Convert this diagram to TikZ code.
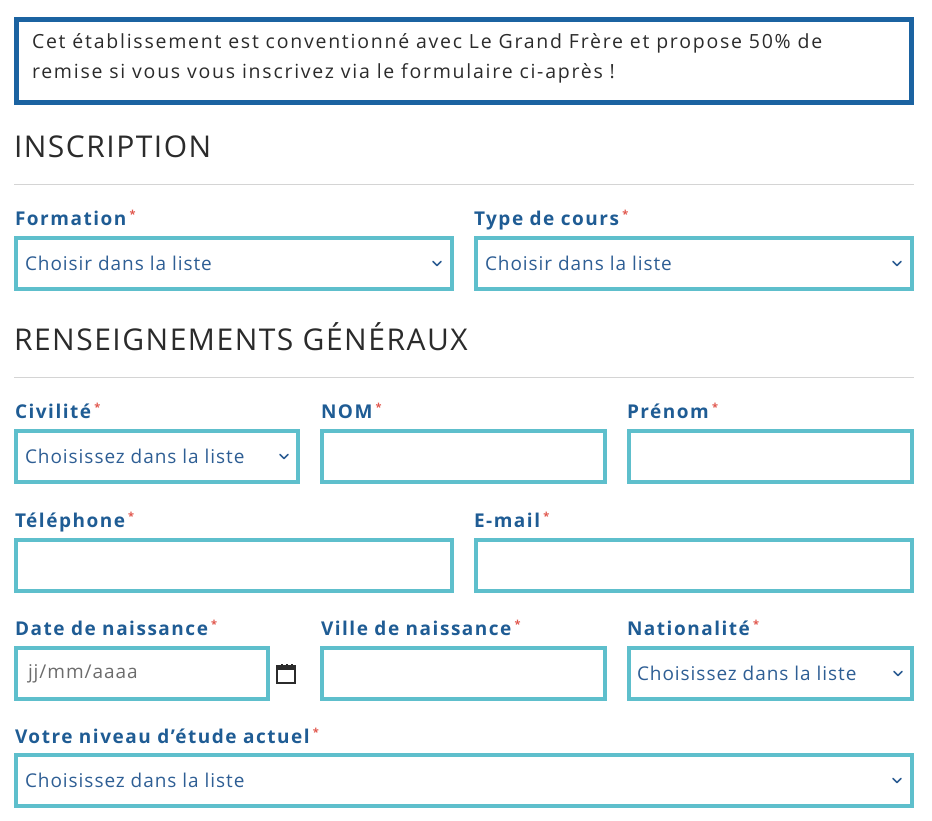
\documentclass[tikz,border=0pt]{standalone}
\usepackage{fontspec}
\setmainfont{Open Sans}
\usetikzlibrary{positioning}
\definecolor{frameblue}{HTML}{1B63A1}
\definecolor{labelblue}{HTML}{1F5C94}
\definecolor{fieldcyan}{HTML}{5EBFCC}
\definecolor{placeblue}{HTML}{2E5E94}
\definecolor{rulegray}{HTML}{D4D4D4}
\definecolor{darktext}{HTML}{2B2B2B}
\definecolor{starred}{HTML}{E0544A}
\newcommand{\req}{\,\raisebox{0.35em}{\textcolor{starred}{\fontsize{11}{11}\selectfont *}}}
\begin{document}
\begin{tikzpicture}[x=1pt, y=-1pt, outer sep=0pt,
  field/.style = {rectangle, draw=fieldcyan, line width=4pt, anchor=north west,
                  inner sep=0pt, minimum height=51pt},
  label/.style = {anchor=base west, inner sep=0pt, text=labelblue,
                  font=\bfseries\fontsize{19}{19}\selectfont\addfontfeatures{LetterSpace=8}},
  place/.style = {anchor=west, inner sep=0pt, text=placeblue,
                  font=\fontsize{19}{19}\selectfont\addfontfeatures{LetterSpace=5}},
  heading/.style = {anchor=base west, inner sep=0pt, text=darktext,
                  font=\fontsize{30}{30}\selectfont\addfontfeatures{LetterSpace=5}},
  hrule/.style = {draw=rulegray, line width=1pt},
  chevron/.style = {draw=placeblue, line width=1.6pt, line cap=round, line join=round}]
  \useasboundingbox (0,0) rectangle (932,820);

  % Notice box.
  \node [rectangle, draw=frameblue, line width=5pt, anchor=north west, inner sep=0pt,
         minimum width=895pt, minimum height=83pt, name=Notice] at (16.5,19.5) {};
  \node [anchor=north west, inner sep=0pt, align=left, text=darktext,
         font=\fontsize{19.5}{30}\selectfont\addfontfeatures{LetterSpace=9}, name=NoticeText] at (32,34)
        {Cet établissement est conventionné avec Le Grand Frère et propose 50\% de\\
         remise si vous vous inscrivez via le formulaire ci-après !};

  % Inscription.
  \node [heading, name=Inscription] at (14,157) {INSCRIPTION};
  \coordinate (ruleA) at (14,184);
  \coordinate (ruleAend) at (914,184);
  \draw [hrule] (ruleA) -- (ruleAend);
  \node [label, name=LabFormation] at (15,225) {Formation\req};
  \node [label, name=LabType] at (474,225) {Type de cours\req};
  \node [field, minimum width=436pt, name=Formation] at (16,238) {};
  \node [field, minimum width=436pt, name=Type] at (476,238) {};
  \node [place, name=PlFormation] at ([xshift=9pt]Formation.west) {Choisir dans la liste};
  \node [place, name=PlType] at ([xshift=9pt]Type.west) {Choisir dans la liste};

  % Renseignements generaux.
  \node [heading, name=Renseignements] at (14,350) {RENSEIGNEMENTS GÉNÉRAUX};
  \coordinate (ruleB) at (14,377);
  \coordinate (ruleBend) at (914,377);
  \draw [hrule] (ruleB) -- (ruleBend);
  \node [label, name=LabCivilite] at (15,418) {Civilité\req};
  \node [label, name=LabNom] at (321,418) {NOM\req};
  \node [label, name=LabPrenom] at (627,418) {Prénom\req};
  \node [field, minimum width=282pt, name=Civilite] at (16,431) {};
  \node [field, minimum width=283pt, name=Nom] at (322,431) {};
  \node [field, minimum width=283pt, name=Prenom] at (629,431) {};
  \node [place, name=PlCivilite] at ([xshift=9pt]Civilite.west) {Choisissez dans la liste};

  \node [label, name=LabTelephone] at (15,527) {Téléphone\req};
  \node [label, name=LabEmail] at (474,527) {E-mail\req};
  \node [field, minimum width=436pt, name=Telephone] at (16,540) {};
  \node [field, minimum width=436pt, name=Email] at (476,540) {};

  \node [label, name=LabDate] at (15,635) {Date de naissance\req};
  \node [label, name=LabVille] at (321,635) {Ville de naissance\req};
  \node [label, name=LabNationalite] at (627,635) {Nationalité\req};
  \node [field, minimum width=252pt, name=Date] at (16,648) {};
  \node [field, minimum width=283pt, name=Ville] at (322,648) {};
  \node [field, minimum width=283pt, name=Nationalite] at (629,648) {};
  \node [place, text=gray!85!black, name=PlDate] at ([xshift=12pt]Date.west) {jj/mm/aaaa};
  \node [place, name=PlNationalite] at ([xshift=8pt]Nationalite.west) {Choisissez dans la liste};

  % Calendar icon.
  \node [rectangle, draw=darktext, line width=2pt, inner sep=0pt, minimum width=18pt,
         minimum height=17pt, anchor=north west, name=Calendar] at (277,666) {};
  \fill [darktext] (Calendar.north west) rectangle ([yshift=-4pt]Calendar.north east);
  \foreach \k in {4,9,14} {
    \fill [darktext] ([xshift=\k pt, yshift=-2pt]Calendar.north west) rectangle
                     ([xshift=\k pt+2pt, yshift=2pt]Calendar.north west);
  }

  \node [label, name=LabNiveau] at (15,743) {Votre niveau d'étude actuel\req};
  \node [field, minimum width=896pt, name=Niveau] at (16,755) {};
  \node [place, name=PlNiveau] at ([xshift=9pt]Niveau.west) {Choisissez dans la liste};

  % Dropdown chevrons.
  \foreach \f/\dx in {Formation/15, Type/15, Civilite/14, Nationalite/14, Niveau/15} {
    \draw [chevron] ([xshift=-\dx pt-4pt, yshift=2pt]\f.east) -- ++(4,4) -- ++(4,-4);
  }
\end{tikzpicture}
\end{document}
